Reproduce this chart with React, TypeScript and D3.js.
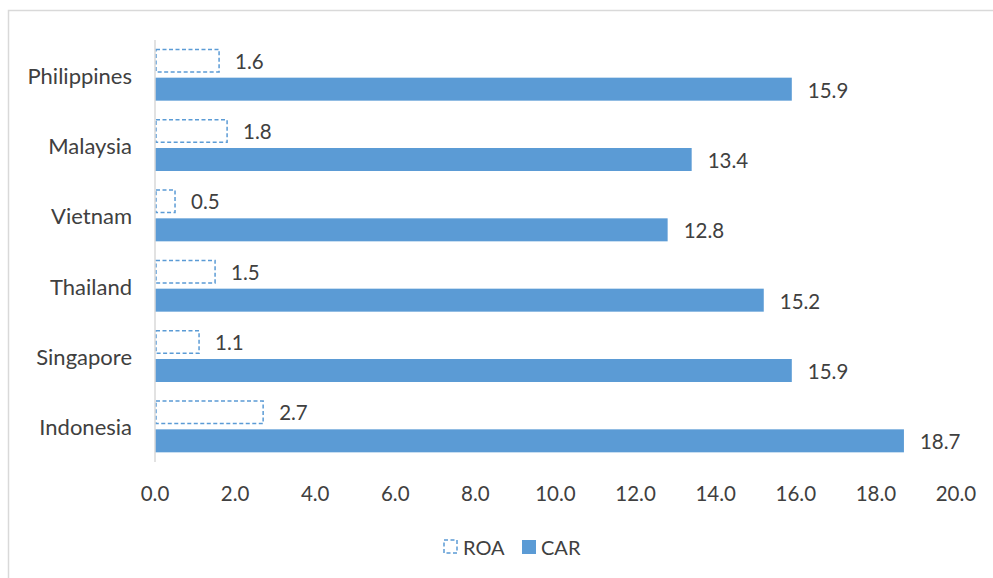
import React from "react";
import * as d3 from "d3";

const categories = ["Philippines", "Malaysia", "Vietnam", "Thailand", "Singapore", "Indonesia"];
const roaValues = [1.6, 1.8, 0.5, 1.5, 1.1, 2.7];
const carValues = [15.9, 13.4, 12.8, 15.2, 15.9, 18.7];
const xTicks = [0, 2, 4, 6, 8, 10, 12, 14, 16, 18, 20];

const W = 993;
const H = 578;
const BLUE = "#5B9BD5";
const TEXT = "#404040";
const FONT = "Lato, 'Open Sans', sans-serif";

export default function App() {
  const x = d3.scaleLinear().domain([0, 20]).range([155, 956]);
  const y = d3.scaleBand<string>().domain(categories).range([40, 462]);
  const band = y.bandwidth();
  const barH = 24;
  const gap = 5;
  const pad = (band - 2 * barH - gap) / 2;
  const fmt = d3.format(".1f");

  return (
    <svg
      width={W}
      height={H}
      style={{ position: "absolute", left: 0, top: 0, background: "#fff" }}
      fontFamily={FONT}
    >
      <rect x={8.5} y={10.5} width={1000} height={600} fill="#fff" stroke="#d9d9d9" strokeWidth={1.5} />
      {categories.map((c, i) => {
        const y0 = (y(c) as number) + pad;
        const y1 = y0 + barH + gap;
        return (
          <g key={c}>
            <text x={132} y={(y(c) as number) + band / 2} textAnchor="end" dominantBaseline="central" fontSize={22} fill={TEXT}>
              {c}
            </text>
            <rect
              x={x(0) + 1}
              y={y0 + 0.75}
              width={x(roaValues[i]) - x(0) - 1}
              height={barH - 1.5}
              fill="#fff"
              stroke={BLUE}
              strokeWidth={1.5}
              strokeDasharray="4,2.5"
            />
            <text x={x(roaValues[i]) + 16} y={y0 + barH / 2} dominantBaseline="central" fontSize={20.5} fill={TEXT}>
              {fmt(roaValues[i])}
            </text>
            <rect x={x(0)} y={y1} width={x(carValues[i]) - x(0)} height={barH - 1} fill={BLUE} />
            <text x={x(carValues[i]) + 16} y={y1 + barH / 2} dominantBaseline="central" fontSize={20.5} fill={TEXT}>
              {fmt(carValues[i])}
            </text>
          </g>
        );
      })}
      <line x1={155} x2={155} y1={40} y2={462} stroke="#d9d9d9" strokeWidth={1.5} />
      {xTicks.map((t) => (
        <text key={t} x={x(t)} y={493} textAnchor="middle" dominantBaseline="central" fontSize={20.5} fill={TEXT}>
          {fmt(t)}
        </text>
      ))}
      <g>
        <rect x={444} y={540} width={13} height={13} fill="#fff" stroke={BLUE} strokeWidth={1.5} strokeDasharray="4,2.5" />
        <text x={463} y={547} dominantBaseline="central" fontSize={20} fill={TEXT}>ROA</text>
        <rect x={522} y={540} width={14} height={14} fill={BLUE} />
        <text x={541} y={547} dominantBaseline="central" fontSize={20} fill={TEXT}>CAR</text>
      </g>
    </svg>
  );
}
